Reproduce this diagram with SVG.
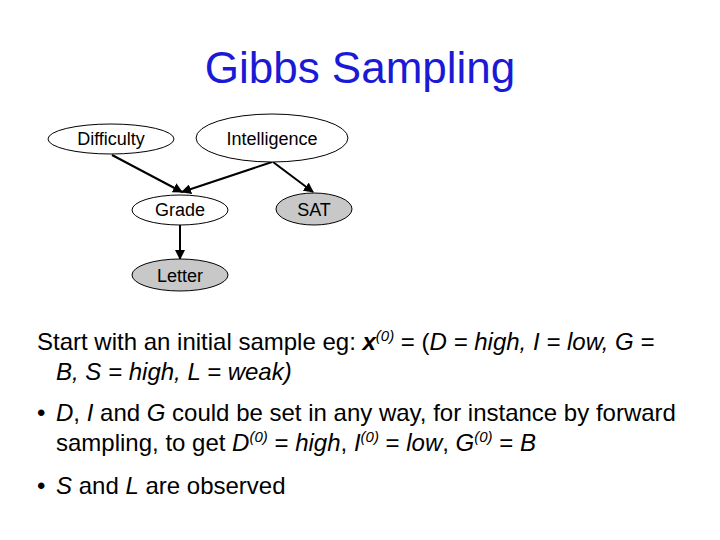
<svg xmlns="http://www.w3.org/2000/svg" width="720" height="540" viewBox="0 0 720 540">
<style>
.node ellipse{stroke:#000;stroke-width:1}
.obs{fill:#c8c8c8}
.hid{fill:#fff}
.nl{font-family:"Liberation Sans",Arial,sans-serif;font-size:18px;text-anchor:middle;fill:#000}
.body{font-family:"Liberation Sans",Arial,sans-serif;font-size:24px;fill:#000}
.i{font-style:italic}
.sup{font-size:15px}
#edges line{stroke:#000;stroke-width:2;marker-end:url(#ah)}
</style>
<defs>
<marker id="ah" viewBox="0 0 10 10" refX="9" refY="5" markerWidth="5" markerHeight="5" orient="auto" markerUnits="strokeWidth">
<path d="M0,0 L10,5 L0,10 z" fill="#000"/>
</marker>
</defs>
<rect width="720" height="540" fill="#fff"/>
<text x="360" y="83" font-family="Liberation Sans,Arial,sans-serif" font-size="44" fill="#1a1ad6" text-anchor="middle">Gibbs Sampling</text>
<g id="edges">
<line x1="112" y1="155" x2="182" y2="192"/>
<line x1="272" y1="162" x2="182" y2="192"/>
<line x1="273" y1="162" x2="313" y2="192"/>
<line x1="180" y1="225" x2="180" y2="259"/>
</g>
<g id="difficulty" class="node"><ellipse class="hid" cx="111" cy="139" rx="63" ry="15"/><text class="nl" x="111" y="145">Difficulty</text></g>
<g id="intelligence" class="node"><ellipse class="hid" cx="272" cy="138" rx="76" ry="24"/><text class="nl" x="272" y="145">Intelligence</text></g>
<g id="grade" class="node"><ellipse class="hid" cx="180" cy="210" rx="48" ry="15"/><text class="nl" x="180" y="216">Grade</text></g>
<g id="sat" class="node"><ellipse class="obs" cx="314" cy="209" rx="38" ry="16"/><text class="nl" x="314" y="216">SAT</text></g>
<g id="letter" class="node"><ellipse class="obs" cx="180" cy="275" rx="48" ry="16"/><text class="nl" x="180" y="282">Letter</text></g>
<text class="body" x="37" y="350">Start with an initial sample eg: <tspan class="i" font-weight="bold">x</tspan><tspan class="sup i" dy="-9">(0)</tspan><tspan dy="9"> = (</tspan><tspan class="i">D = high, I = low, G =</tspan></text>
<text class="body i" x="56" y="380">B, S = high, L = weak)</text>
<text class="body" x="37" y="421">•</text>
<text class="body" x="56" y="421"><tspan class="i">D</tspan>, <tspan class="i">I</tspan> and <tspan class="i">G</tspan> could be set in any way, for instance by forward</text>
<text class="body" x="56" y="451">sampling, to get <tspan class="i">D</tspan><tspan class="sup i" dy="-9">(0)</tspan><tspan dy="9"> = </tspan><tspan class="i">high</tspan>, <tspan class="i">I</tspan><tspan class="sup i" dy="-9">(0)</tspan><tspan dy="9"> = </tspan><tspan class="i">low</tspan>, <tspan class="i">G</tspan><tspan class="sup i" dy="-9">(0)</tspan><tspan dy="9"> = </tspan><tspan class="i">B</tspan></text>
<text class="body" x="37" y="494">•</text>
<text class="body" x="56" y="494"><tspan class="i">S</tspan> and <tspan class="i">L</tspan> are observed</text>
</svg>
